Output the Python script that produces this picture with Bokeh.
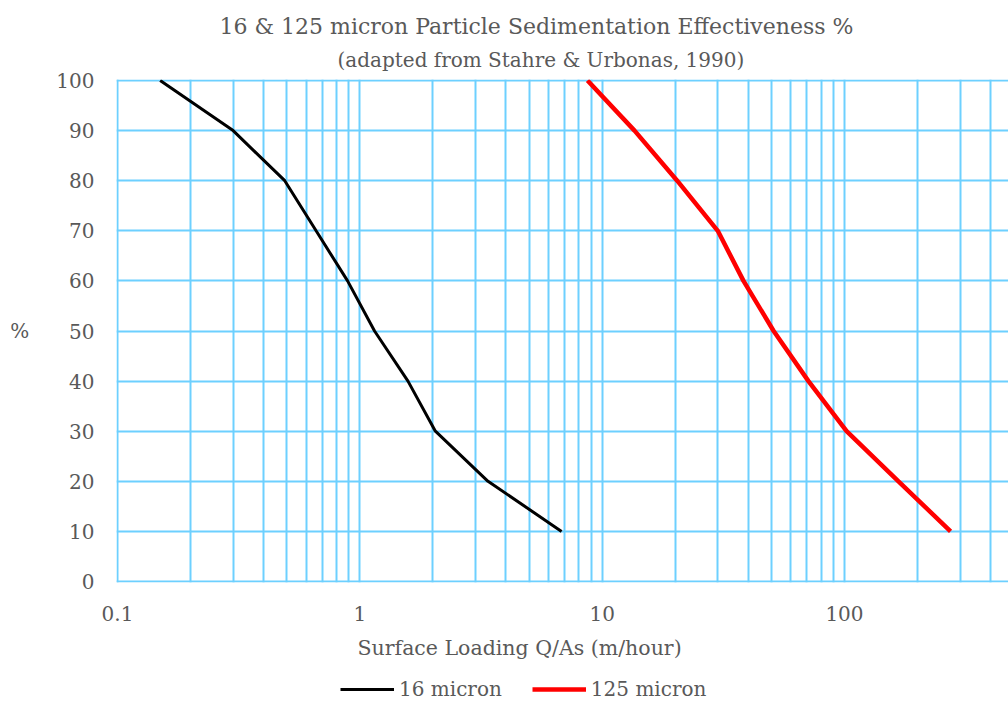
import math
from bokeh.plotting import figure
from bokeh.layouts import column
from bokeh.models import FixedTicker, Legend, LegendItem, Range1d, Title
from bokeh.embed import file_html
from bokeh.resources import INLINE

# ---- data ----
pct = [100, 90, 80, 70, 60, 50, 40, 30, 20, 10]
load_16 = [0.15, 0.30, 0.49, 0.66, 0.89, 1.15, 1.58, 2.05, 3.38, 6.8]
load_125 = [8.7, 13.6, 20.4, 30.0, 38.3, 51.0, 71.0, 102.0, 167.0, 274.0]
x_major = [0.1, 1, 10, 100]
x_minor = [m * d for d in [0.1, 1, 10, 100] for m in range(2, 10)]
y_ticks = list(range(0, 101, 10))

title1 = "16 & 125 micron Particle Sedimentation Effectiveness %"
title2 = "(adapted from Stahre & Urbonas, 1990)"
x_title = "Surface Loading Q/As (m/hour)"
y_title = "%"
names = ["16 micron", "125 micron"]

FONT = "DejaVu Serif"
TXT = "#595959"
GRID = "#6DD0FF"
C16, C125 = "black", "#FF0000"
LW16, LW125 = 3, 4.5

W, H = 1008, 702
LEG_H = 30
H1 = H - LEG_H
FR_L, FR_T, FR_B, FR_R = 117, 80, 581, 1008
DEC = 242.33
X0 = 0.1
x_end = 10 ** (math.log10(X0) + (FR_R - FR_L) / DEC)
x_start = 10 ** (math.log10(X0) - 1.0 / DEC)

p = figure(width=W, height=H1, x_axis_type="log",
           x_range=Range1d(x_start, x_end), y_range=Range1d(-0.2, 100.2),
           output_backend="svg", toolbar_location=None,
           min_border_left=FR_L - 1, min_border_right=0,
           min_border_top=FR_T - 1, min_border_bottom=H1 - FR_B - 1)
p.outline_line_color = None
p.background_fill_color = "white"

# axes
p.xaxis.ticker = FixedTicker(ticks=x_major, minor_ticks=x_minor)
p.xaxis.major_label_overrides = {0.1: "0.1", 1: "1", 10: "10", 100: "100"}
p.yaxis.ticker = FixedTicker(ticks=y_ticks)
for ax in (p.xaxis[0], p.yaxis[0]):
    ax.axis_line_color = None
    ax.major_tick_line_color = None
    ax.minor_tick_line_color = None
    ax.major_tick_out = 0
    ax.major_tick_in = 0
    ax.minor_tick_out = 0
    ax.minor_tick_in = 0
    ax.major_label_text_font = FONT
    ax.major_label_text_font_size = "20px"
    ax.major_label_text_color = TXT
p.xaxis.major_label_standoff = 23
p.yaxis.major_label_standoff = 22
p.yaxis.axis_label = y_title
p.yaxis.axis_label_orientation = "horizontal"
p.yaxis.axis_label_text_font = FONT
p.yaxis.axis_label_text_font_size = "20px"
p.yaxis.axis_label_text_font_style = "normal"
p.yaxis.axis_label_text_color = TXT
p.yaxis.axis_label_standoff = 24

for g in (p.xgrid, p.ygrid):
    g.grid_line_color = GRID
    g.grid_line_width = 2
p.xgrid.minor_grid_line_color = GRID
p.xgrid.minor_grid_line_width = 2

p.line(load_16, pct, line_color=C16, line_width=LW16)
p.line(load_125, pct, line_color=C125, line_width=LW125)

def title(text, size, offset, side, standoff):
    t = Title(text=text, align="left", offset=offset, text_font=FONT,
              text_font_size=size, text_font_style="normal", text_color=TXT,
              standoff=standoff)
    p.add_layout(t, side)

title(title2, "20px", 338 - FR_L, "above", 15)
title(title1, "22px", 220 - FR_L, "above", 0)
title(x_title, "20.5px", 358 - FR_L, "below", 20)

# legend strip (same series, styled identically; data lies outside this strip's view)
p2 = figure(width=W, height=LEG_H, x_range=Range1d(0, 1), y_range=Range1d(-2, -1),
            output_backend="svg", toolbar_location=None,
            x_axis_location=None, y_axis_location=None,
            min_border_left=0, min_border_right=0, min_border_top=0, min_border_bottom=0)
p2.outline_line_color = None
p2.grid.visible = False
l1 = p2.line(load_16, pct, line_color=C16, line_width=LW16)
l2 = p2.line(load_125, pct, line_color=C125, line_width=LW125)
legend = Legend(items=[LegendItem(label=names[0], renderers=[l1]),
                       LegendItem(label=names[1], renderers=[l2])],
                orientation="horizontal", location=(341 - FR_L, 1),
                glyph_width=54, glyph_height=20, label_standoff=5, spacing=30,
                padding=0, margin=0, border_line_color=None,
                background_fill_alpha=0, label_text_font=FONT,
                label_text_font_size="20px", label_text_color=TXT)
p2.add_layout(legend, "center")

open("out.html", "w").write(file_html(column(p, p2, spacing=0), INLINE))
